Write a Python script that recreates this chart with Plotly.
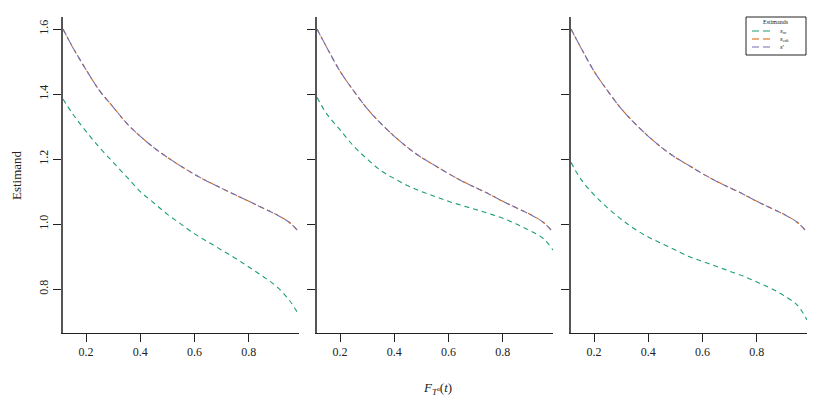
import plotly.graph_objects as go
from plotly.subplots import make_subplots

# x grid (CDF values)
x_vals = [0.115, 0.15, 0.2, 0.25, 0.3, 0.35, 0.4, 0.45, 0.5, 0.55, 0.6,
          0.65, 0.7, 0.75, 0.8, 0.85, 0.9, 0.95, 0.985]

# panel 1
p1_sm = [1.385, 1.34, 1.285, 1.235, 1.19, 1.145, 1.10, 1.065, 1.03, 1.0, 0.97,
         0.945, 0.92, 0.895, 0.868, 0.84, 0.81, 0.765, 0.72]
p1_sctk = [1.60, 1.545, 1.475, 1.41, 1.36, 1.31, 1.27, 1.235, 1.205, 1.178, 1.153,
           1.13, 1.11, 1.09, 1.07, 1.05, 1.03, 1.005, 0.975]
p1_s = p1_sctk

# panel 2
p2_sm = [1.39, 1.34, 1.29, 1.24, 1.20, 1.165, 1.14, 1.118, 1.10, 1.085, 1.07,
         1.057, 1.045, 1.032, 1.018, 1.0, 0.98, 0.955, 0.92]
p2_sctk = [1.60, 1.545, 1.47, 1.41, 1.355, 1.31, 1.27, 1.235, 1.205, 1.18, 1.155,
           1.132, 1.112, 1.092, 1.07, 1.05, 1.03, 1.005, 0.975]
p2_s = p2_sctk

# panel 3
p3_sm = [1.19, 1.14, 1.09, 1.05, 1.015, 0.985, 0.96, 0.94, 0.92, 0.90, 0.885,
         0.87, 0.855, 0.84, 0.822, 0.803, 0.78, 0.75, 0.705]
p3_sctk = p2_sctk
p3_s = p2_sctk

panels = [(p1_sm, p1_sctk, p1_s), (p2_sm, p2_sctk, p2_s), (p3_sm, p3_sctk, p3_s)]

names = ["<i>s</i><sub><i>m</i></sub>", "<i>s</i><sub><i>ctk</i></sub>", "<i>s</i>'"]
colors = ["#1b9e77", "#d95f02", "#7570b3"]
dashes = ["5px,4px", "4px,4px", "7px,3px"]

FONT = "Liberation Serif"
OFF = 8  # page body margin in the browser
W, H = 831 - OFF, 412 - OFF
plot_top, plot_bot = 17 - OFF, 333 - OFF

fig = make_subplots(rows=1, cols=3, horizontal_spacing=0.02)

for i, series in enumerate(panels):
    for k, ys in enumerate(series):
        fig.add_trace(go.Scatter(x=x_vals, y=ys, mode="lines", name=names[k],
                                 line=dict(color=colors[k], width=1.1, dash=dashes[k],
                                           shape="spline"),
                                 showlegend=False), row=1, col=i + 1)


def px(x):
    return (x - OFF) / W


def py(y):
    return (plot_bot - (y - OFF)) / (plot_bot - plot_top)


domains = [(px(63), px(299)), (px(317), px(553)), (px(571), px(807))]
for i, dom in enumerate(domains):
    ax = "xaxis" if i == 0 else f"xaxis{i + 1}"
    ay = "yaxis" if i == 0 else f"yaxis{i + 1}"
    fig.layout[ax].update(
        domain=list(dom), range=[0.115, 0.985], showgrid=False, zeroline=False,
        showline=True, linecolor="#222", linewidth=1, automargin=False,
        ticks="outside", ticklen=8, tickcolor="#222",
        tickvals=[0.2, 0.4, 0.6, 0.8], ticktext=["0.2", "0.4", "0.6", "0.8"],
        tickfont=dict(family=FONT, size=12, color="#222"))
    fig.layout[ay].update(
        domain=[0, 1], range=[0.665, 1.637], showgrid=False, zeroline=False,
        showline=True, linecolor="#555", linewidth=1.5, automargin=False,
        ticks="outside", ticklen=8, tickcolor="#222",
        tickvals=[0.8, 1.0, 1.2, 1.4, 1.6],
        ticktext=["0.8", "1.0", "1.2", "1.4", "1.6"],
        showticklabels=(i == 0), tickangle=-90,
        tickfont=dict(family=FONT, size=12, color="#222"))

fig.add_annotation(text="Estimand", xref="paper", yref="paper", x=px(16), y=0.5,
                   textangle=-90, showarrow=False, xanchor="center", yanchor="middle",
                   font=dict(family=FONT, size=13, color="#222"))
fig.add_annotation(text="<i>F</i><sub><i>T</i><sup>a</sup></sub>(<i>t</i>)",
                   xref="paper", yref="paper", x=px(437), y=py(388),
                   showarrow=False, xanchor="center", yanchor="middle",
                   font=dict(family=FONT, size=13, color="#222"))

# hand-drawn legend box
fig.add_shape(type="rect", xref="paper", yref="paper",
              x0=px(746), x1=px(806), y0=py(55), y1=py(17),
              line=dict(color="#222", width=1), fillcolor="white", layer="above")
fig.add_annotation(text="Estimands", xref="paper", yref="paper", x=px(776), y=py(22),
                   showarrow=False, xanchor="center", yanchor="middle",
                   font=dict(family=FONT, size=6, color="#222"))
for k in range(3):
    yy = py(31 + 8 * k)
    fig.add_shape(type="line", xref="paper", yref="paper",
                  x0=px(752), x1=px(772), y0=yy, y1=yy, layer="above",
                  line=dict(color=colors[k], width=1.2, dash="7px,4px"))
    fig.add_annotation(text=names[k], xref="paper", yref="paper", x=px(778), y=yy,
                       showarrow=False, xanchor="left", yanchor="middle",
                       font=dict(family=FONT, size=7, color="#222"))

fig.update_layout(
    width=W, height=H,
    margin=dict(l=0, r=0, t=plot_top, b=H - plot_bot),
    plot_bgcolor="white", paper_bgcolor="white",
    showlegend=False,
)

fig.write_html("out.html")
